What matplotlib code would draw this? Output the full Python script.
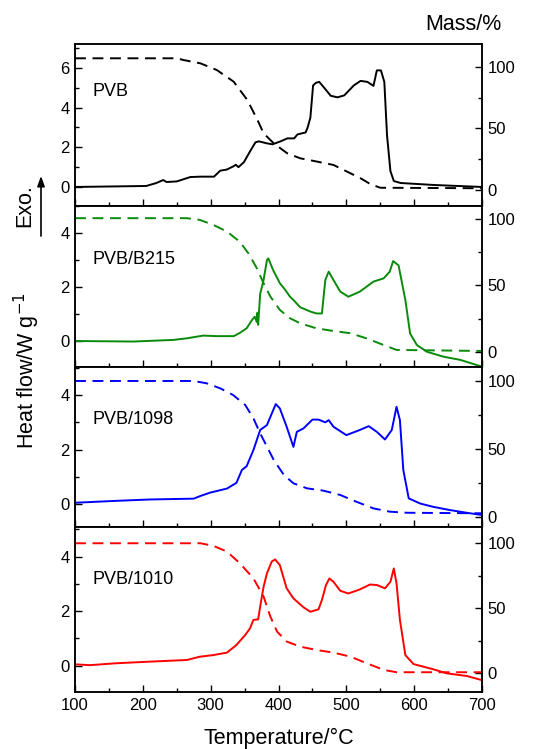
import matplotlib
matplotlib.use("Agg")
import matplotlib.pyplot as plt
from matplotlib.ticker import MultipleLocator

plt.rcParams['font.family'] = ['Liberation Sans', 'DejaVu Sans']

# ---------------- data ----------------
labels = ["PVB", "PVB/B215", "PVB/1098", "PVB/1010"]
colors = ["#000000", "#0a8a0a", "#0000ff", "#ff0000"]

# PVB
t_hf_pvb = [100, 205, 220, 230, 235, 250, 270, 285, 305, 314, 324, 334, 337, 341, 349, 359, 366, 371,
            383, 391, 403, 413, 423, 428, 440, 443, 447, 451, 455, 460, 465, 477, 487, 497, 511, 521,
            531, 540, 545, 551, 556, 560, 565, 570, 580, 629, 700]
hf_pvb = [0.0, 0.05, 0.2, 0.35, 0.25, 0.28, 0.5, 0.52, 0.52, 0.82, 0.88, 1.05, 1.12, 1.0, 1.25, 1.85, 2.25,
          2.3, 2.2, 2.15, 2.3, 2.45, 2.45, 2.65, 2.75, 3.0, 3.5, 5.12, 5.25, 5.3, 5.1, 4.6, 4.52, 4.62,
          5.12, 5.35, 5.3, 5.1, 5.88, 5.88, 5.3, 2.6, 0.8, 0.3, 0.2, 0.1, 0.0]
t_m_pvb = [100, 250, 260, 285, 309, 334, 354, 369, 378, 393, 413, 432, 457, 481, 501, 521, 535, 550, 700]
m_pvb = [106.8, 106.8, 105.4, 102.7, 97.3, 87.8, 73, 56.8, 46, 37.8, 29.7, 25.7, 23, 20.3, 14.9,
         9.5, 4.9, 1.8, 1.4]

# PVB/B215
t_hf_b215 = [100, 186, 245, 265, 289, 309, 334, 343, 353, 361, 365, 368, 369, 370, 373, 378, 383, 385,
             392, 402, 410, 417, 422, 432, 447, 456, 464, 469, 474, 481, 491, 503, 520, 540, 555, 564,
             569, 577, 587, 594, 604, 619, 643, 668, 700]
hf_b215 = [0.0, -0.02, 0.04, 0.1, 0.2, 0.18, 0.18, 0.3, 0.47, 0.78, 0.9, 0.7, 1.05, 0.6, 1.75, 2.26,
           3.0, 3.06, 2.63, 2.14, 1.89, 1.64, 1.52, 1.25, 1.09, 1.02, 1.02, 2.26, 2.57, 2.26, 1.83,
           1.64, 1.83, 2.2, 2.32, 2.57, 2.96, 2.8, 1.52, 0.28, -0.15, -0.4, -0.58, -0.7, -0.95]
t_m_b215 = [100, 265, 284, 304, 324, 343, 356, 368, 378, 388, 402, 417, 432, 456, 481, 506, 530, 555,
            574, 700]
m_b215 = [100.8, 100.8, 99.5, 95.7, 90.7, 83, 74, 63, 51.6, 41.6, 31.5, 25.2, 21.4, 17.6, 15.6, 13.9,
          10, 5, 1.3, 0.5]

# PVB/1098
t_hf_1098 = [100, 161, 211, 275, 284, 299, 324, 338, 346, 353, 363, 373, 383, 388, 396, 402, 412, 422,
             427, 437, 450, 459, 469, 474, 481, 500, 520, 533, 545, 557, 567, 574, 579, 584, 592, 609,
             628, 653, 678, 700]
hf_1098 = [0.05, 0.12, 0.17, 0.2, 0.29, 0.42, 0.57, 0.78, 1.25, 1.39, 1.98, 2.72, 2.9, 3.2, 3.67, 3.51,
           2.84, 2.1, 2.65, 2.78, 3.1, 3.1, 3.0, 3.08, 2.84, 2.53, 2.72, 2.86, 2.65, 2.37, 2.72, 3.57,
           3.08, 1.25, 0.21, 0.02, -0.1, -0.22, -0.32, -0.4]
t_m_1098 = [100, 275, 294, 314, 333, 351, 363, 373, 383, 393, 408, 422, 442, 466, 491, 515, 540, 564,
            589, 700]
m_1098 = [100, 100, 98.3, 94.6, 89.7, 82.3, 72.5, 61.4, 51.6, 41.8, 30.7, 24.6, 20.9, 19.2, 16, 11,
          6.1, 3.7, 2.9, 2.5]

# PVB/1010
t_hf_1010 = [100, 122, 161, 211, 265, 284, 304, 324, 338, 351, 358, 363, 370, 373, 378, 383, 390, 395,
             402, 412, 422, 437, 447, 459, 464, 470, 475, 481, 491, 503, 520, 535, 545, 557, 565, 570,
             574, 579, 587, 599, 628, 648, 678, 700]
hf_1010 = [0.05, 0.02, 0.09, 0.15, 0.21, 0.33, 0.39, 0.48, 0.76, 1.13, 1.37, 1.68, 1.7, 2.17, 2.9,
           3.39, 3.82, 3.9, 3.69, 2.84, 2.47, 2.14, 1.98, 2.07, 2.41, 2.96, 3.2, 3.08, 2.75, 2.65, 2.8,
           2.98, 2.96, 2.84, 3.08, 3.57, 3.02, 1.68, 0.39, 0.06, -0.13, -0.28, -0.38, -0.53]
t_m_1010 = [100, 285, 304, 324, 343, 363, 378, 388, 398, 412, 432, 456, 481, 506, 530, 555, 574, 700]
m_1010 = [100, 100, 98, 93.6, 84.6, 73, 59, 43.6, 32, 24.4, 20.5, 17.9, 15.9, 12.8, 7.7, 2.6, 0.8, 0.8]

hf_t = [t_hf_pvb, t_hf_b215, t_hf_1098, t_hf_1010]
hf_v = [hf_pvb, hf_b215, hf_1098, hf_1010]
m_t = [t_m_pvb, t_m_b215, t_m_1098, t_m_1010]
m_v = [m_pvb, m_b215, m_1098, m_1010]

left_ticks = [[0, 2, 4, 6], [0, 2, 4], [0, 2, 4], [0, 2, 4]]
right_ticks = [0, 50, 100]
x_ticks = [100, 200, 300, 400, 500, 600, 700]

# ---------------- layout ----------------
W, H = 543, 749
fig = plt.figure(figsize=(W / 100, H / 100), dpi=100)

left_px, right_px = 75, 482
panels_px = [(44, 206), (206, 367), (367, 527), (527, 692)]
ylims_l = [(-0.96, 7.21), (-0.963, 5.0), (-0.84, 5.03), (-0.965, 5.09)]
ylims_r = [(-13, 118.4), (-11.6, 110), (-7.6, 110.3), (-14.4, 112.5)]
label_y = [0.704, 0.665, 0.669, 0.679]

axes = []
for i in range(4):
    top, bot = panels_px[i]
    ax = fig.add_axes([left_px / W, 1 - bot / H, (right_px - left_px) / W, (bot - top) / H])
    axes.append(ax)
    ax.plot(hf_t[i], hf_v[i], color=colors[i], lw=1.4, solid_joinstyle='round')
    ax.set_xlim(100, 700)
    ax.set_ylim(*ylims_l[i])
    ax.set_yticks(left_ticks[i])
    ax.yaxis.set_minor_locator(MultipleLocator(1))
    ax.set_xticks(x_ticks)
    ax.xaxis.set_minor_locator(MultipleLocator(50))
    ax.tick_params(which='both', direction='in', top=False, right=False, labelsize=12, width=1.0)
    ax.tick_params(which='major', length=5, pad=4)
    ax.tick_params(which='minor', length=3)
    if i < 3:
        ax.tick_params(axis='x', labelbottom=False)
    for s in ax.spines.values():
        s.set_linewidth(1.1)
    ax.text(0.044, label_y[i], labels[i], transform=ax.transAxes, fontsize=13, va='center', ha='left')

    ax2 = ax.twinx()
    ln, = ax2.plot(m_t[i], m_v[i], color=colors[i], lw=1.4, linestyle='--')
    ln.set_dashes([5.6, 3.4])
    ax2.set_ylim(*ylims_r[i])
    ax2.set_yticks(right_ticks)
    ax2.yaxis.set_minor_locator(MultipleLocator(25))
    ax2.tick_params(which='both', direction='in', labelsize=12, width=1.0)
    ax2.tick_params(which='major', length=5, pad=4)
    ax2.tick_params(which='minor', length=3)
    for s in ax2.spines.values():
        s.set_linewidth(1.1)

fig.text(278.5 / W, 1 - 738 / H, "Temperature/°C", ha='center', va='center', fontsize=15.5)
fig.text(463 / W, 1 - 24 / H, "Mass/%", ha='center', va='center', fontsize=15.5)
fig.text(27 / W, 1 - 371 / H, "Heat flow/W g$^{-1}$", ha='center', va='center', rotation=90,
         fontsize=15.5)
fig.text(25 / W, 1 - 206 / H, "Exo.", ha='center', va='center', rotation=90, fontsize=15.5)
axes[0].annotate('', xy=(41 / W, 1 - 176 / H), xycoords='figure fraction',
                 xytext=(41 / W, 1 - 236 / H), textcoords='figure fraction',
                 arrowprops=dict(arrowstyle='-|>,head_width=0.22,head_length=0.6', lw=1.2,
                                 color='k', shrinkA=0, shrinkB=0),
                 annotation_clip=False)

fig.savefig("out.png", dpi=100)
